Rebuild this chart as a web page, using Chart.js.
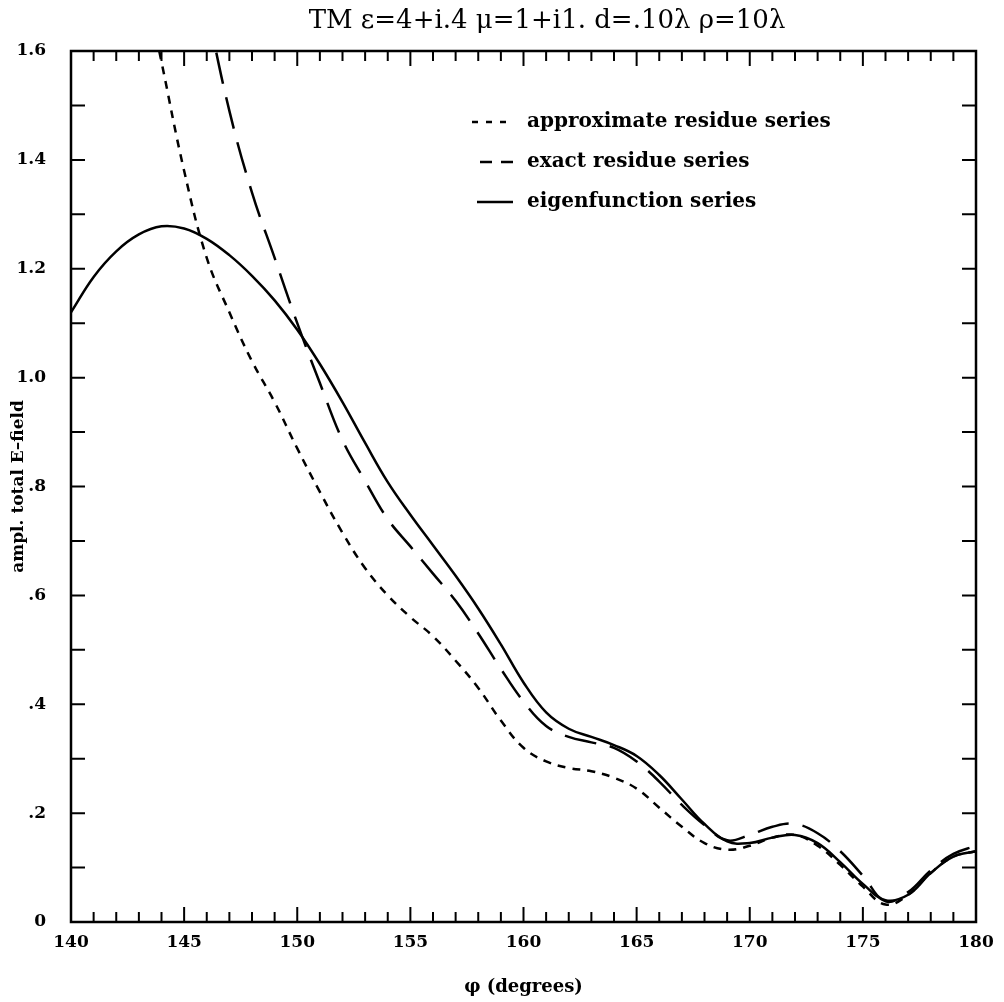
<!DOCTYPE html>
<html>
<head>
<meta charset="utf-8">
<script src="https://cdn.jsdelivr.net/npm/chart.js@4"></script>
<style>
  html, body { margin: 0; padding: 0; background: #fff; }
  #wrap { width: 1004px; height: 1002px; }
</style>
</head>
<body>
<div id="wrap"><canvas id="fieldChart"></canvas></div>
<script>
// angles (degrees) and amplitudes
const eigenAngles = [140,141,142,143,144,145,146,147,148,149,150,151,152,153,154,155,156,157,158,159,160,
    161,162,163,164,165,166,167,168,169,170,171,172,173,174,175,176,177,178,179,180];
const eigenValues = [1.12,1.185,1.232,1.263,1.278,1.274,1.255,1.225,1.187,1.142,1.088,1.025,0.955,0.88,0.808,0.748,0.692,0.636,0.576,0.51,0.44,
    0.385,0.355,0.34,0.325,0.305,0.27,0.225,0.18,0.148,0.145,0.155,0.16,0.145,0.11,0.07,0.04,0.05,0.09,0.12,0.13];

const approxAngles = [143.5,144,145,146,147,148,149,150,151,152,153,154,155,156,157,158,159,160,
    161,162,163,164,165,166,167,168,169,170,171,172,173,174,175,176,177,178,179,180];
const approxValues = [1.68,1.58,1.38,1.22,1.12,1.03,0.955,0.87,0.79,0.715,0.65,0.6,0.56,0.525,0.48,0.43,0.37,0.32,
    0.295,0.283,0.277,0.265,0.245,0.21,0.175,0.145,0.133,0.14,0.155,0.16,0.14,0.105,0.065,0.032,0.05,0.09,0.12,0.13];

const exactAngles = [146,147,148,149,150,151,152,153,154,155,156,157,158,159,160,
    161,162,163,164,165,166,167,168,169,170,171,172,173,174,175,176,177,178,179,180];
const exactValues = [1.68,1.49,1.34,1.22,1.1,0.99,0.885,0.81,0.74,0.69,0.64,0.59,0.53,0.465,0.405,
    0.36,0.34,0.33,0.32,0.295,0.258,0.215,0.178,0.15,0.16,0.175,0.18,0.163,0.13,0.085,0.038,0.055,0.095,0.125,0.14];

const xTicks = [140,145,150,155,160,165,170,175,180];
const yTicks = [0,0.2,0.4,0.6,0.8,1.0,1.2,1.4,1.6];
const seriesNames = ['approximate residue series','exact residue series','eigenfunction series'];
const chartTitle = 'TM ε=4+i.4 μ=1+i1. d=.10λ ρ=10λ';

const toPoints = (xs, ys) => xs.map((x, i) => ({ x: x, y: ys[i] }));

// title, frame + inward ticks on all four sides, and the legend inside the plot
const framePlugin = {
    id: 'frame',
    afterDraw(chart) {
        const ctx = chart.ctx;
        const a = chart.chartArea;
        const xs = chart.scales.x;
        const ys = chart.scales.y;
        ctx.save();
        ctx.fillStyle = '#000';
        ctx.font = '26px "DejaVu Serif"';
        ctx.textAlign = 'center';
        ctx.textBaseline = 'middle';
        ctx.fillText(chartTitle, 547, 21);

        ctx.strokeStyle = '#000';
        ctx.lineWidth = 2.5;
        ctx.strokeRect(a.left, a.top, a.right - a.left, a.bottom - a.top);
        ctx.lineWidth = 2;
        ctx.beginPath();
        for (let d = 140; d <= 180; d++) {
            const px = xs.getPixelForValue(d);
            const len = d % 5 === 0 ? 15 : 10;
            ctx.moveTo(px, a.bottom); ctx.lineTo(px, a.bottom - len);
            ctx.moveTo(px, a.top); ctx.lineTo(px, a.top + len);
        }
        for (let k = 0; k <= 16; k++) {
            const py = ys.getPixelForValue(k / 10);
            ctx.moveTo(a.left, py); ctx.lineTo(a.left + 14, py);
            ctx.moveTo(a.right, py); ctx.lineTo(a.right - 14, py);
        }
        ctx.stroke();

        // legend
        const order = [1, 2, 0];
        ctx.font = 'bold 20px "DejaVu Serif"';
        ctx.textAlign = 'left';
        order.forEach((di, row) => {
            const ds = chart.data.datasets[di];
            const y = 122 + row * 40;
            ctx.beginPath();
            ctx.lineWidth = 2.5;
            ctx.setLineDash(ds.legendDash);
            ctx.moveTo(ds.legendStart, y);
            ctx.lineTo(513, y);
            ctx.stroke();
            ctx.setLineDash([]);
            ctx.fillText(ds.label, 527, y);
        });
        ctx.restore();
    }
};

const ctx = document.getElementById('fieldChart').getContext('2d');
new Chart(ctx, {
    type: 'line',
    data: {
        datasets: [
            {
                label: seriesNames[2],
                data: toPoints(eigenAngles, eigenValues),
                borderColor: '#000',
                borderWidth: 2.5,
                legendDash: [],
                legendStart: 477
            },
            {
                label: seriesNames[0],
                data: toPoints(approxAngles, approxValues),
                borderColor: '#000',
                borderWidth: 2.5,
                borderDash: [8, 7],
                legendDash: [6, 8],
                legendStart: 472
            },
            {
                label: seriesNames[1],
                data: toPoints(exactAngles, exactValues),
                borderColor: '#000',
                borderWidth: 2.5,
                borderDash: [32, 14],
                legendDash: [12, 9],
                legendStart: 480
            }
        ]
    },
    options: {
        responsive: true,
        maintainAspectRatio: false,
        animation: false,
        events: [],
        elements: {
            point: { radius: 0 },
            line: { tension: 0.4, fill: false }
        },
        layout: { padding: { left: 0, right: 28, top: 51, bottom: 4 } },
        plugins: {
            legend: { display: false },
            tooltip: { enabled: false },
            title: { display: false }
        },
        scales: {
            x: {
                type: 'linear',
                min: 140,
                max: 180,
                afterBuildTicks: s => { s.ticks = xTicks.map(v => ({ value: v })); },
                afterFit: s => { s.height = 76; },
                grid: { display: false, drawTicks: false },
                border: { display: false },
                ticks: {
                    color: '#000',
                    padding: 10,
                    maxRotation: 0,
                    font: { family: 'DejaVu Serif', size: 17, weight: 'bold' },
                    callback: v => String(v)
                },
                title: {
                    display: true,
                    text: 'φ (degrees)',
                    color: '#000',
                    padding: { top: 9, bottom: 0 },
                    font: { family: 'DejaVu Serif', size: 18, weight: 'bold' }
                }
            },
            y: {
                min: 0,
                max: 1.6,
                afterBuildTicks: s => { s.ticks = yTicks.map(v => ({ value: v })); },
                afterFit: s => { s.width = 71; },
                grid: { display: false, drawTicks: false },
                border: { display: false },
                ticks: {
                    color: '#000',
                    padding: 25,
                    font: { family: 'DejaVu Serif', size: 17, weight: 'bold' },
                    callback: v => v === 0 ? '0' : (v < 1 ? v.toFixed(1).replace('0.', '.') : v.toFixed(1))
                },
                title: {
                    display: true,
                    text: 'ampl. total E–field',
                    color: '#000',
                    padding: { top: 8, bottom: 0 },
                    font: { family: 'DejaVu Serif', size: 17, weight: 'bold' }
                }
            }
        }
    },
    plugins: [framePlugin]
});
</script>
</body>
</html>
